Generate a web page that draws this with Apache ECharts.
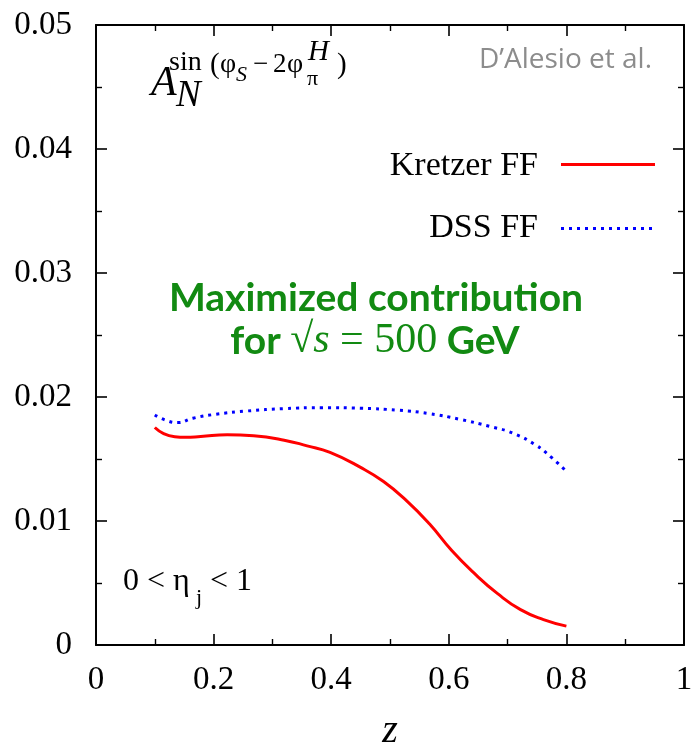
<!DOCTYPE html>
<html>
<head>
<meta charset="utf-8">
<script src="https://cdn.jsdelivr.net/npm/echarts@6/dist/echarts.min.js"></script>
<style>
  html, body { margin: 0; padding: 0; background: #fff; }
  #chart { width: 696px; height: 750px; }
</style>
</head>
<body>
<div id="chart"></div>
<script>
// Asymmetry A_N^{sin(phi_S - 2 phi_pi^H)} versus z for two fragmentation-function sets
const seriesNames = ['Kretzer FF', 'DSS FF'];

const zKretzer = [0.1, 0.115, 0.134, 0.152, 0.178, 0.223, 0.268, 0.32, 0.359, 0.398, 0.45, 0.489, 0.528, 0.567, 0.605, 0.644, 0.683, 0.722, 0.761, 0.8];
const aKretzer = [0.01754, 0.01705, 0.01680, 0.01675, 0.01681, 0.01695, 0.01687, 0.01652, 0.01606, 0.01553, 0.01432, 0.01318, 0.01164, 0.00977, 0.00762, 0.00575, 0.00414, 0.00285, 0.00205, 0.00152];

const zDss = [0.1, 0.119, 0.139, 0.165, 0.204, 0.256, 0.32, 0.385, 0.45, 0.515, 0.567, 0.618, 0.67, 0.709, 0.748, 0.774, 0.8];
const aDss = [0.01855, 0.01812, 0.01794, 0.01829, 0.01861, 0.01887, 0.01906, 0.01914, 0.01909, 0.01893, 0.01866, 0.01821, 0.01762, 0.01708, 0.01612, 0.01515, 0.01400];

const xTickLabels = ['0', '0.2', '0.4', '0.6', '0.8', '1'];
const yTickLabels = ['0', '0.01', '0.02', '0.03', '0.04', '0.05'];

const serif = '"Liberation Serif", "Times New Roman", serif';
const sans = '"Open Sans", Lato, sans-serif';
const black = '#000';
const green = '#128a12';

function pairs(xs, ys) { return xs.map((x, i) => [x, ys[i]]); }

const tickCommon = { show: true, inside: true, length: 11, lineStyle: { color: black, width: 1.6 } };
const minorCommon = { show: true, splitNumber: 2, length: 6, lineStyle: { color: black, width: 1.4 } };
const lineCommon = { show: true, onZero: false, lineStyle: { color: black, width: 2 } };

function txt(x, y, text, font, extra) {
  return { type: 'text', x: x, y: y, style: Object.assign({ text: text, font: font, fill: black, verticalAlign: 'middle' }, extra || {}) };
}

const chart = echarts.init(document.getElementById('chart'), null, { renderer: 'canvas' });

const option = {
  animation: false,
  backgroundColor: '#fff',
  grid: { left: 96, right: 12, top: 25, bottom: 105, containLabel: false, outerBoundsMode: 'none' },
  xAxis: [
    {
      type: 'value', min: 0, max: 1, interval: 0.2, position: 'bottom',
      axisLine: lineCommon, axisTick: tickCommon, minorTick: minorCommon,
      splitLine: { show: false },
      axisLabel: {
        margin: 19, fontFamily: serif, fontSize: 33, color: black,
        formatter: v => xTickLabels[Math.round(v / 0.2)]
      },
      name: 'z', nameLocation: 'middle', nameGap: 66,
      nameTextStyle: { fontFamily: serif, fontSize: 40, fontStyle: 'italic', color: black }
    },
    {
      type: 'value', min: 0, max: 1, interval: 0.2, position: 'top',
      axisLine: lineCommon, axisTick: tickCommon, minorTick: minorCommon,
      splitLine: { show: false }, axisLabel: { show: false }
    }
  ],
  yAxis: [
    {
      type: 'value', min: 0, max: 0.05, interval: 0.01, position: 'left',
      axisLine: lineCommon, axisTick: tickCommon, minorTick: minorCommon,
      splitLine: { show: false },
      axisLabel: {
        margin: 24, fontFamily: serif, fontSize: 33, color: black,
        formatter: v => yTickLabels[Math.round(v / 0.01)]
      }
    },
    {
      type: 'value', min: 0, max: 0.05, interval: 0.01, position: 'right',
      axisLine: lineCommon, axisTick: tickCommon, minorTick: minorCommon,
      splitLine: { show: false }, axisLabel: { show: false }
    }
  ],
  series: [
    {
      name: seriesNames[0], type: 'line', data: pairs(zKretzer, aKretzer),
      smooth: 0.5, showSymbol: false, symbol: 'none',
      lineStyle: { color: '#ff0000', width: 3 }
    },
    {
      name: seriesNames[1], type: 'line', data: pairs(zDss, aDss),
      smooth: 0.5, showSymbol: false, symbol: 'none',
      lineStyle: { color: '#0000ff', width: 3, type: [3, 5], cap: 'butt' }
    }
  ],
  graphic: [
    // A_N with its sin(phi_S - 2 phi_pi^H) superscript
    txt(151, 84, 'A', 'italic 42px ' + serif),
    txt(176, 96, 'N', 'italic 37px ' + serif),
    txt(169, 63, 'sin', '28px ' + serif),
    txt(210, 65, '(', '29px ' + serif),
    txt(220, 65, 'φ', '28px ' + serif),
    txt(236, 75, 'S', 'italic 22px ' + serif),
    txt(253, 65, '−', '27px ' + serif),
    txt(273, 65, '2', '27px ' + serif),
    txt(287, 65, 'φ', '28px ' + serif),
    txt(307, 79, 'π', '22px ' + serif),
    txt(308, 52, 'H', 'italic 29px ' + serif),
    txt(337, 65, ')', '29px ' + serif),

    // author credit
    txt(652, 60, 'D’Alesio et al.', '28px ' + sans, { fill: '#8c8c8c', align: 'right' }),

    // key
    txt(538, 166, seriesNames[0], '34px ' + serif, { align: 'right' }),
    { type: 'line', shape: { x1: 561, y1: 164.5, x2: 655, y2: 164.5 }, style: { stroke: '#ff0000', lineWidth: 3 } },
    txt(538, 228, seriesNames[1], '34px ' + serif, { align: 'right' }),
    { type: 'line', shape: { x1: 561, y1: 228.5, x2: 655, y2: 228.5 }, style: { stroke: '#0000ff', lineWidth: 3, lineDash: [3, 5] } },

    // green annotation
    txt(376, 298, 'Maximized contribution', 'bold 39px Lato, "Open Sans", sans-serif', { fill: green, align: 'center' }),
    {
      type: 'text', x: 375, y: 341,
      style: {
        text: '{b|for }{m|√}{i|s}{m| = 500}{b| GeV}',
        align: 'center', verticalAlign: 'middle',
        rich: {
          b: { font: 'bold 39px Lato, "Open Sans", sans-serif', fill: green },
          m: { font: '42px ' + serif, fill: green },
          i: { font: 'italic 42px ' + serif, fill: green }
        }
      }
    },

    // rapidity range
    txt(123, 582, '0 < η', '32px ' + serif),
    txt(196, 598, 'j', '22px ' + serif),
    txt(210, 582, '< 1', '32px ' + serif)
  ]
};

chart.setOption(option);
</script>
</body>
</html>
